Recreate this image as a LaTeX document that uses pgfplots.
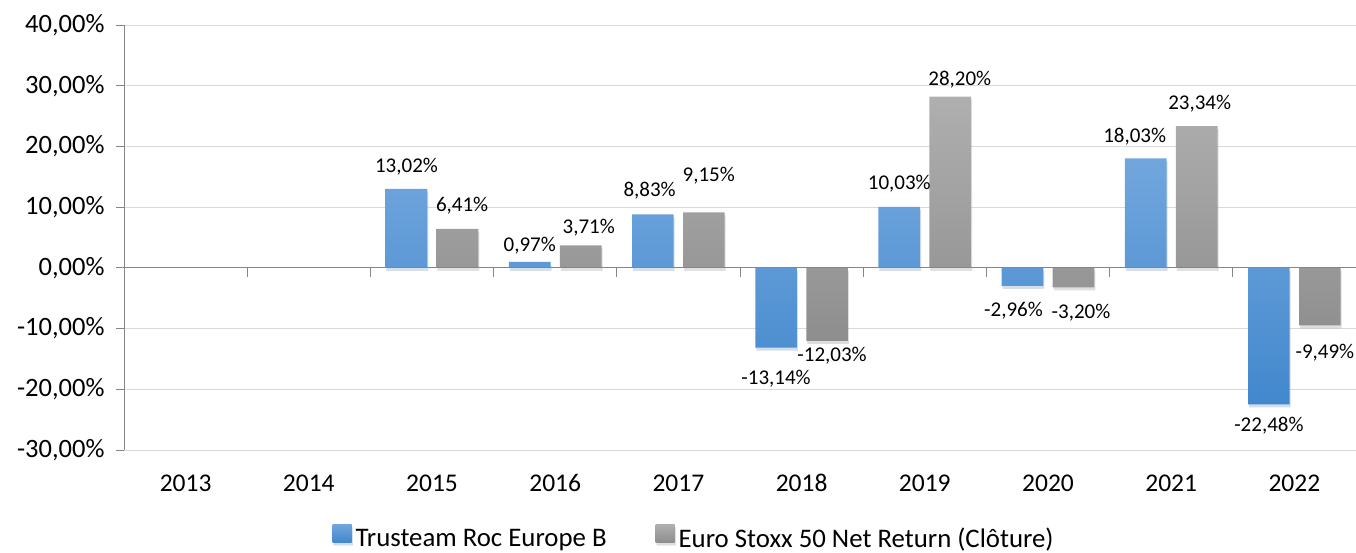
\documentclass[border=0pt]{standalone}
\usepackage{fontspec}
\setmainfont{Carlito}
\usepackage{pgfplots}
\pgfplotsset{compat=1.18}
\usepackage{pgfplotstable}
\usetikzlibrary{shadows}
\definecolor{blueT}{RGB}{114,166,221}
\definecolor{blueB}{RGB}{66,136,205}
\definecolor{grayT}{RGB}{175,175,175}
\definecolor{grayB}{RGB}{142,142,142}
\definecolor{gridc}{RGB}{217,217,217}
\definecolor{axisc}{RGB}{134,134,134}

\pgfplotstableread{
x y dx dy
2 13.02 0 22.7
3 0.97 0 17
4 8.83 -3.3 24
5 -13.14 0 -30.7
6 10.03 0 24
7 -2.96 -9 -24.5
8 18.03 -11 22
9 -22.48 0 -21
}\fund

\pgfplotstableread{
x y dx dy
2 6.41 4.6 24
3 3.71 8 18.3
4 9.15 4.8 37
5 -12.03 5 -14
6 28.20 9.5 17.7
7 -3.20 7.5 -25
8 23.34 3 23.5
9 -9.49 5 -26
}\bench

\begin{document}
\begin{tikzpicture}
\useasboundingbox (0,0) rectangle (1356pt,552pt);
\begin{axis}[
  at={(124pt,102pt)}, anchor=south west,
  scale only axis, width=1232pt, height=425pt,
  xmin=-0.5, xmax=9.5, ymin=-30, ymax=40,
  ytick={-30,-20,...,40},
  xtick={0,...,9},
  xticklabels={2013,2014,2015,2016,2017,2018,2019,2020,2021,2022},
  axis y line*=left, axis x line*=bottom,
  x axis line style={draw=none},
  y axis line style={draw=axisc, line width=0.8pt},
  xtick style={draw=none},
  ytick style={draw=axisc, line width=0.8pt},
  tick align=outside, major tick length=8pt,
  ymajorgrids, grid style={draw=gridc, line width=0.8pt},
  /pgf/number format/assume math mode=true,
  yticklabel={\pgfmathprintnumber[fixed,fixed zerofill,precision=2,use comma]{\tick}\%},
  yticklabel style={font=\fontsize{26.5pt}{31pt}\selectfont, text=black, xshift=-8pt},
  xticklabel style={font=\fontsize{25.5pt}{30pt}\selectfont, text=black, yshift=-13pt},
  bar width=0.338,
  legend style={at={(0.4627,-0.206)}, anchor=center, draw=none, fill=none,
    legend columns=2, font=\fontsize{26.8pt}{31pt}\selectfont,
    inner sep=0pt, nodes={inner sep=2pt},
    /tikz/every even column/.append style={column sep=47pt},
    cells={anchor=west}},
]
\addplot[ybar, bar shift=-0.207, draw=none, top color=blueT, bottom color=blueB,
  drop shadow={shadow xshift=1pt, shadow yshift=-3pt, opacity=0.15},
  nodes near coords={\pgfmathprintnumber[fixed,fixed zerofill,precision=2,use comma]{\pgfplotspointmeta}\%},
  visualization depends on={\thisrow{dx} \as \dx},
  visualization depends on={\thisrow{dy} \as \dy},
  every node near coord/.append style={font=\fontsize{21pt}{25pt}\selectfont, text=black,
    anchor=base, xshift=\dx pt-25.5pt, yshift=\dy pt-6.6pt},
  legend image code/.code={\path[top color=blueT, bottom color=blueB] (0pt,-4pt) rectangle (19pt,14pt); \path (21pt,5pt);}
] table[x=x,y=y]{\fund};
\addlegendentry{Trusteam Roc Europe B}
\addplot[ybar, bar shift=0.207, draw=none, top color=grayT, bottom color=grayB,
  drop shadow={shadow xshift=1pt, shadow yshift=-3pt, opacity=0.15},
  nodes near coords={\pgfmathprintnumber[fixed,fixed zerofill,precision=2,use comma]{\pgfplotspointmeta}\%},
  visualization depends on={\thisrow{dx} \as \dx},
  visualization depends on={\thisrow{dy} \as \dy},
  every node near coord/.append style={font=\fontsize{21pt}{25pt}\selectfont, text=black,
    anchor=base, xshift=\dx pt+25.5pt, yshift=\dy pt-6.6pt},
  legend image code/.code={\path[top color=grayT, bottom color=grayB] (0pt,-4pt) rectangle (19pt,14pt); \path (21pt,5pt);}
] table[x=x,y=y]{\bench};
\addlegendentry{Euro Stoxx 50 Net Return (Clôture)}
\end{axis}
\begin{axis}[
  at={(124pt,102pt)}, anchor=south west,
  scale only axis, width=1232pt, height=425pt,
  xmin=-0.5, xmax=9.5, ymin=-30, ymax=40,
  axis x line=middle, axis y line=none,
  xtick={-0.5,0.5,...,9.5}, xticklabels={}, ytick=\empty,
  tick align=outside, major tick length=9pt,
  x axis line style={draw=axisc, line width=0.8pt, -},
  xtick style={draw=axisc, line width=0.8pt},
]
\addplot[draw=none] coordinates {(0,0)};
\end{axis}
\end{tikzpicture}
\end{document}
